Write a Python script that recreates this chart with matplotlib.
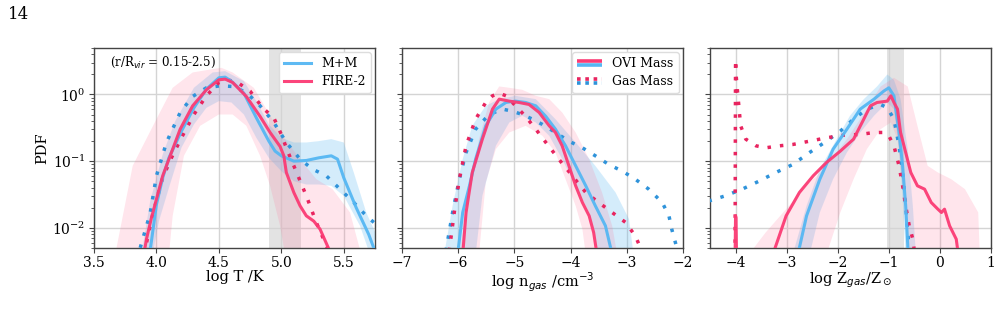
import numpy as np
import matplotlib
import matplotlib.pyplot as plt
from matplotlib.lines import Line2D
from matplotlib.legend_handler import HandlerBase

plt.rcParams['font.family'] = 'DejaVu Serif'
plt.rcParams['mathtext.fontset'] = 'dejavusans'

# colours
BLUE = '#55b7f3'
BLUE_DOT = '#2f93da'
PINK = '#fb3b74'
PINK_DOT = '#e8245f'

# ---------------- panel 1: temperature (log10 PDF values) ----------------
t_mm_ovi_x = [3.93, 3.96, 4.0, 4.05, 4.1, 4.2, 4.3, 4.4, 4.5, 4.55, 4.6, 4.7, 4.8, 4.9, 4.95, 5.0,
              5.1, 5.2, 5.3, 5.4, 5.45, 5.5, 5.6, 5.7, 5.76]
t_mm_ovi_y = [-2.6, -2.2, -1.65, -1.25, -0.95, -0.55, -0.2, 0.08, 0.25, 0.26, 0.2, 0.02, -0.35, -0.7, -0.85, -0.92,
              -1.0, -0.99, -0.95, -0.92, -0.97, -1.25, -1.7, -2.1, -2.4]
t_fire_ovi_x = [3.89, 3.92, 3.96, 4.0, 4.05, 4.11, 4.19, 4.29, 4.4, 4.5, 4.55, 4.61, 4.72, 4.83, 4.91, 4.99,
                5.02, 5.04, 5.1, 5.15, 5.2, 5.26, 5.31, 5.4]
t_fire_ovi_y = [-2.5, -2.17, -1.85, -1.57, -1.22, -0.92, -0.52, -0.17, 0.07, 0.22, 0.23, 0.18, -0.03, -0.33, -0.57, -0.78,
                -0.92, -1.17, -1.47, -1.67, -1.82, -1.9, -2.02, -2.4]
t_mm_gas_x = [3.87, 3.95, 4.0, 4.08, 4.19, 4.29, 4.4, 4.51, 4.61, 4.72, 4.83, 4.94, 5.04, 5.15, 5.25, 5.36,
              5.47, 5.58, 5.68, 5.76]
t_mm_gas_y = [-2.3, -1.78, -1.22, -0.72, -0.27, -0.03, 0.1, 0.13, 0.12, 0.03, -0.17, -0.42, -0.72, -0.97, -1.12, -1.22,
              -1.42, -1.62, -1.82, -1.95]
t_fire_gas_x = [3.9, 3.97, 4.05, 4.12, 4.2, 4.3, 4.4, 4.5, 4.57, 4.65, 4.75, 4.85, 4.94, 5.0, 5.05, 5.1,
                5.2, 5.28, 5.38]
t_fire_gas_y = [-2.4, -1.8, -1.25, -0.95, -0.65, -0.3, -0.02, 0.18, 0.22, 0.18, 0.05, -0.2, -0.35, -0.6, -0.85, -1.07,
                -1.52, -1.92, -2.35]
t_mm_hi_x = [3.88, 3.95, 4.05, 4.15, 4.3, 4.45, 4.55, 4.7, 4.8, 4.9, 5.0, 5.1, 5.2, 5.3, 5.4, 5.5, 5.58, 5.68, 5.76]
t_mm_hi_y = [-2.4, -1.6, -0.9, -0.4, 0.1, 0.33, 0.35, 0.2, -0.1, -0.45, -0.65, -0.72, -0.72, -0.7, -0.67, -0.72, -1.17, -1.77, -2.1]
t_mm_lo_x = [3.97, 4.02, 4.1, 4.2, 4.3, 4.4, 4.5, 4.6, 4.7, 4.8, 4.9, 5.0, 5.1, 5.2, 5.3, 5.4, 5.5, 5.63, 5.71]
t_mm_lo_y = [-2.4, -1.9, -1.4, -0.8, -0.45, -0.2, -0.1, -0.12, -0.3, -0.65, -0.95, -1.15, -1.3, -1.35, -1.35, -1.37, -1.52, -1.97, -2.4]
t_fire_hi_x = [3.67, 3.81, 4.0, 4.13, 4.29, 4.45, 4.52, 4.61, 4.78, 4.88, 4.99, 5.15, 5.28, 5.41, 5.55, 5.64]
t_fire_hi_y = [-2.4, -1.07, -0.37, 0.1, 0.33, 0.38, 0.4, 0.33, 0.1, -0.22, -0.57, -0.97, -1.27, -1.42, -1.77, -2.4]
t_fire_lo_x = [4.1, 4.13, 4.22, 4.35, 4.5, 4.61, 4.72, 4.83, 4.91, 4.99, 5.03]
t_fire_lo_y = [-2.4, -1.82, -0.92, -0.47, -0.3, -0.3, -0.47, -0.92, -1.37, -1.97, -2.4]

# ---------------- panel 2: density ----------------
n_mm_ovi_x = [-6.01, -5.92, -5.8, -5.69, -5.51, -5.33, -5.15, -4.98, -4.8, -4.62, -4.44, -4.27, -4.09, -3.91,
              -3.73, -3.56, -3.38, -3.26]
n_mm_ovi_y = [-2.4, -1.77, -1.37, -0.97, -0.47, -0.22, -0.12, -0.1, -0.12, -0.17, -0.33, -0.52, -0.77, -1.07,
              -1.37, -1.67, -1.97, -2.4]
n_fire_ovi_x = [-5.92, -5.86, -5.75, -5.57, -5.39, -5.27, -5.09, -4.92, -4.74, -4.56, -4.38, -4.27, -4.15, -4.03,
                -3.91, -3.79, -3.67, -3.59, -3.53]
n_fire_ovi_y = [-2.4, -1.77, -1.17, -0.67, -0.22, -0.07, -0.1, -0.12, -0.15, -0.27, -0.47, -0.57, -0.77, -1.07,
                -1.37, -1.62, -1.82, -2.07, -2.4]
n_mm_gas_x = [-6.22, -6.1, -5.98, -5.86, -5.69, -5.45, -5.21, -5.04, -4.86, -4.68, -4.5, -4.27, -4.03, -3.79,
              -3.56, -3.32, -3.08, -2.85, -2.61, -2.37, -2.25, -2.2, -2.11]
n_mm_gas_y = [-2.35, -1.77, -1.27, -0.87, -0.52, -0.3, -0.22, -0.25, -0.3, -0.37, -0.45, -0.57, -0.7, -0.8,
              -0.92, -1.05, -1.15, -1.27, -1.42, -1.62, -1.82, -2.02, -2.3]
n_fire_gas_x = [-6.16, -6.07, -5.98, -5.86, -5.69, -5.51, -5.39, -5.27, -5.15, -4.98, -4.8, -4.62, -4.44, -4.21,
                -3.97, -3.73, -3.5, -3.26, -3.02, -2.85, -2.73]
n_fire_gas_y = [-2.35, -1.77, -1.27, -0.77, -0.37, -0.12, -0.02, 0.02, -0.02, -0.17, -0.33, -0.52, -0.72, -0.97,
                -1.22, -1.47, -1.62, -1.77, -1.92, -2.12, -2.35]
n_mm_hi_x = [-6.25, -6.1, -5.92, -5.75, -5.51, -5.27, -4.98, -4.62, -4.27, -3.91, -3.56, -3.2, -2.96, -2.88]
n_mm_hi_y = [-2.4, -1.67, -0.97, -0.47, -0.17, -0.07, -0.02, -0.07, -0.37, -0.72, -1.07, -1.47, -1.87, -2.4]
n_mm_lo_x = [-5.69, -5.57, -5.33, -5.09, -4.86, -4.62, -4.38, -4.15, -3.91, -3.67, -3.5]
n_mm_lo_y = [-2.4, -1.52, -0.77, -0.42, -0.32, -0.42, -0.62, -0.97, -1.37, -1.77, -2.4]
n_fire_hi_x = [-5.98, -5.8, -5.63, -5.45, -5.27, -5.09, -4.86, -4.62, -4.38, -4.15, -3.91, -3.67, -3.44, -3.26, -3.17]
n_fire_hi_y = [-2.4, -1.47, -0.67, -0.12, 0.12, 0.1, 0.07, -0.02, -0.07, -0.27, -0.57, -0.97, -1.47, -1.97, -2.4]
n_fire_lo_x = [-5.63, -5.51, -5.33, -5.09, -4.8, -4.5, -4.27, -4.09, -3.91, -3.79, -3.73]
n_fire_lo_y = [-2.4, -1.32, -0.82, -0.57, -0.47, -0.62, -0.87, -1.27, -1.67, -2.02, -2.4]

# ---------------- panel 3: metallicity ----------------
z_mm_ovi_x = [-2.78, -2.61, -2.35, -2.09, -1.82, -1.56, -1.29, -1.1, -1.0, -0.9, -0.8, -0.73, -0.67, -0.62]
z_mm_ovi_y = [-2.4, -1.82, -1.27, -0.82, -0.52, -0.22, -0.07, 0.05, 0.1, -0.02, -0.57, -1.07, -1.67, -2.4]
z_fire_ovi_x = [-4.01, -4.0, -3.99, -3.98, np.nan, -3.27, -3.01, -2.75, -2.48, -2.22, -1.95, -1.69, -1.49, -1.36,
                -1.23, -1.03, -0.96, -0.9, -0.83, -0.77, -0.67, -0.57, -0.44, -0.3, -0.17, -0.04, 0.03, 0.09,
                0.19, 0.32, 0.36]
z_fire_ovi_y = [-2.5, -1.82, -1.85, -2.5, np.nan, -2.4, -1.82, -1.47, -1.22, -1.02, -0.85, -0.67, -0.37, -0.17,
                -0.12, -0.1, -0.02, -0.12, -0.22, -0.57, -0.87, -1.17, -1.37, -1.42, -1.62, -1.72, -1.77, -1.72,
                -1.97, -2.17, -2.4]
z_mm_gas_x = [-4.53, -4.2, -3.87, -3.54, -3.21, -2.88, -2.55, -2.22, -1.95, -1.69, -1.43, -1.16, -1.03, -0.9,
              -0.8, -0.73, -0.67, -0.6]
z_mm_gas_y = [-1.6, -1.52, -1.42, -1.3, -1.17, -1.05, -0.87, -0.7, -0.55, -0.37, -0.22, -0.15, -0.2, -0.37,
              -0.77, -1.17, -1.67, -2.35]
z_fire_gas_x = [-4.01, -4.0, -3.99, -3.97, -3.93, -3.9, -3.8, -3.6, -3.41, -3.14, -2.88, -2.55, -2.22, -1.89,
                -1.56, -1.29, -1.1, -1.0, -0.9, -0.8, -0.73, -0.67, -0.6, -0.53, -0.5]
z_fire_gas_y = [-2.6, 0.52, 0.3, 0.12, -0.22, -0.47, -0.67, -0.77, -0.8, -0.77, -0.75, -0.7, -0.65, -0.61,
                -0.6, -0.57, -0.57, -0.62, -0.77, -1.07, -1.37, -1.67, -1.97, -2.17, -2.35]
z_mm_hi_x = [-2.88, -2.61, -2.35, -2.02, -1.76, -1.49, -1.23, -1.03, -0.9, -0.77, -0.63, -0.53, -0.47]
z_mm_hi_y = [-2.4, -1.67, -1.12, -0.67, -0.32, -0.07, 0.12, 0.3, 0.22, -0.07, -0.82, -1.67, -2.4]
z_mm_lo_x = [-2.55, -2.35, -2.09, -1.82, -1.56, -1.29, -1.03, -0.9, -0.8, -0.73, -0.67]
z_mm_lo_y = [-2.4, -1.77, -1.27, -0.87, -0.57, -0.32, -0.12, -0.22, -0.82, -1.57, -2.4]
z_fire_hi_x = [-3.74, -3.41, -3.01, -2.61, -2.22, -1.82, -1.43, -1.16, -0.9, -0.63, -0.44, -0.24, -0.04, 0.22,
               0.49, 0.75, 0.78]
z_fire_hi_y = [-2.4, -2.07, -1.72, -1.37, -1.07, -0.67, -0.22, 0.12, 0.25, 0.12, -0.47, -1.07, -1.17, -1.27,
               -1.42, -1.77, -2.4]
z_fire_lo_x = [-2.22, -1.95, -1.69, -1.43, -1.16, -0.96, -0.83, -0.73, -0.62]
z_fire_lo_y = [-2.4, -1.77, -1.27, -0.82, -0.52, -0.42, -0.67, -1.37, -2.4]

panel_xlim = [(3.5, 5.75), (-7, -2), (-4.5, 1)]
panel_xticks = [[3.5, 4.0, 4.5, 5.0, 5.5], [-7, -6, -5, -4, -3, -2], [-4, -3, -2, -1, 0, 1]]
panel_xlabel = ['log T /K', r'log n$_{gas}$ /cm$^{-3}$', r'log Z$_{gas}$/Z$_\odot$']
panel_ovi_band = [(4.9, 5.16), None, (-1.04, -0.7)]


class Pair:
    def __init__(self, top, bottom, dotted):
        self.top, self.bottom, self.dotted = top, bottom, dotted


class HandlerPair(HandlerBase):
    def create_artists(self, legend, h, xd, yd, width, height, fontsize, trans):
        ls = (0, (1, 1.3)) if h.dotted else '-'
        y = height / 2 - yd
        l1 = Line2D([-xd, width - xd], [y + 1.4, y + 1.4], color=h.top, lw=2.6, ls=ls,
                    solid_capstyle='butt', dash_capstyle='butt', transform=trans)
        l2 = Line2D([-xd, width - xd], [y - 1.4, y - 1.4], color=h.bottom, lw=2.6, ls=ls,
                    solid_capstyle='butt', dash_capstyle='butt', transform=trans)
        return [l1, l2]


def band(ax, hx, hy, lx, ly, color, alpha):
    px = list(hx) + list(lx)[::-1]
    py = 10 ** np.array(list(hy) + list(ly)[::-1])
    ax.fill(px, py, color=color, alpha=alpha, lw=0, zorder=1)


def curve(ax, x, y, color, dotted=False, label=None):
    ls = (0, (1, 2.6)) if dotted else '-'
    ax.plot(x, 10 ** np.array(y, dtype=float), color=color, lw=2.5 if dotted else 2.2, ls=ls,
            dash_capstyle='butt', zorder=3, label=label, alpha=1 if dotted else 0.95)


fig = plt.figure(figsize=(10, 3.17), dpi=100)
lefts = [0.094, 0.402, 0.710]
axes = [fig.add_axes([l, 0.218, 0.281, 0.631]) for l in lefts]

data = [
    (t_mm_ovi_x, t_mm_ovi_y, t_fire_ovi_x, t_fire_ovi_y, t_mm_gas_x, t_mm_gas_y, t_fire_gas_x, t_fire_gas_y,
     t_mm_hi_x, t_mm_hi_y, t_mm_lo_x, t_mm_lo_y, t_fire_hi_x, t_fire_hi_y, t_fire_lo_x, t_fire_lo_y),
    (n_mm_ovi_x, n_mm_ovi_y, n_fire_ovi_x, n_fire_ovi_y, n_mm_gas_x, n_mm_gas_y, n_fire_gas_x, n_fire_gas_y,
     n_mm_hi_x, n_mm_hi_y, n_mm_lo_x, n_mm_lo_y, n_fire_hi_x, n_fire_hi_y, n_fire_lo_x, n_fire_lo_y),
    (z_mm_ovi_x, z_mm_ovi_y, z_fire_ovi_x, z_fire_ovi_y, z_mm_gas_x, z_mm_gas_y, z_fire_gas_x, z_fire_gas_y,
     z_mm_hi_x, z_mm_hi_y, z_mm_lo_x, z_mm_lo_y, z_fire_hi_x, z_fire_hi_y, z_fire_lo_x, z_fire_lo_y),
]

for i, ax in enumerate(axes):
    d = data[i]
    ax.set_yscale('log')
    ax.set_ylim(0.005, 5.0)
    ax.set_xlim(*panel_xlim[i])
    ax.set_xticks(panel_xticks[i])
    ax.grid(True, which='major', color='#d4d4d4', lw=1.0, zorder=0)
    ax.set_axisbelow(True)
    if panel_ovi_band[i] is not None:
        ax.axvspan(*panel_ovi_band[i], color='#dcdcdc', alpha=0.8, lw=0, zorder=0.5)
    band(ax, d[8], d[9], d[10], d[11], BLUE, 0.25)
    band(ax, d[12], d[13], d[14], d[15], '#ff6f96', 0.18)
    curve(ax, d[4], d[5], BLUE_DOT, dotted=True)
    curve(ax, d[6], d[7], PINK_DOT, dotted=True)
    curve(ax, d[0], d[1], BLUE, label='M+M')
    curve(ax, d[2], d[3], PINK, label='FIRE-2')
    ax.set_xlabel(panel_xlabel[i], fontsize=10.5, labelpad=0)
    ax.tick_params(axis='both', which='major', labelsize=10, length=3.5, pad=2.5, color='#444444')
    ax.tick_params(axis='y', which='minor', length=2, color='#444444')
    for s in ax.spines.values():
        s.set_color('#444444')
        s.set_linewidth(1.0)
    if i > 0:
        ax.tick_params(axis='y', which='both', labelleft=False)

axes[0].set_ylabel('PDF', fontsize=10.5, labelpad=2)
axes[0].text(0.057, 0.925, r'(r/R$_{vir}$ = 0.15-2.5)', transform=axes[0].transAxes,
             fontsize=8.5, va='center', ha='left')
axes[0].legend(loc='upper right', fontsize=9, framealpha=1, edgecolor='#dddddd',
               handlelength=2.2, borderaxespad=0.35, borderpad=0.4, labelspacing=0.4)
axes[1].legend([Pair(PINK, BLUE, False), Pair(PINK_DOT, BLUE_DOT, True)], ['OVI Mass', 'Gas Mass'],
               handler_map={Pair: HandlerPair()}, loc='upper right', fontsize=9, framealpha=1,
               edgecolor='#dddddd', handlelength=2.0, borderaxespad=0.35, borderpad=0.4, labelspacing=0.4)

fig.text(0.008, 0.955, '14', fontsize=12, va='center', ha='left')

fig.savefig('out.png', dpi=100)
